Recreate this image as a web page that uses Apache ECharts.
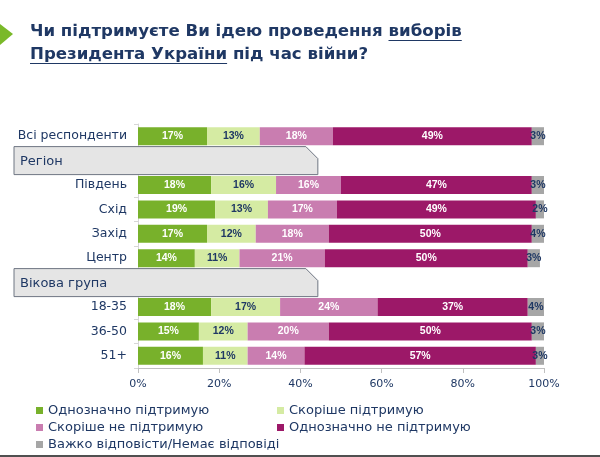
<!DOCTYPE html>
<html>
<head>
<meta charset="utf-8">
<script src="https://cdn.jsdelivr.net/npm/echarts@6/dist/echarts.min.js"></script>
<style>
html,body{margin:0;padding:0;background:#fff;}
#chart{width:600px;height:457px;}
</style>
</head>
<body>
<div id="chart"></div>
<script>
// ---- data ----
const categories = ['Всі респонденти','Регіон','Південь','Схід','Захід','Центр','Вікова група','18-35','36-50','51+'];
const headerRows = ['Регіон','Вікова група'];
const seriesNames = ['Однозначно підтримую','Скоріше підтримую','Скоріше не підтримую','Однозначно не підтримую','Важко відповісти/Немає відповіді'];
const definitelySupport    = [17, null, 18, 19, 17, 14, null, 18, 15, 16];
const ratherSupport        = [13, null, 16, 13, 12, 11, null, 17, 12, 11];
const ratherNotSupport     = [18, null, 16, 17, 18, 21, null, 24, 20, 14];
const definitelyNotSupport = [49, null, 47, 49, 50, 50, null, 37, 50, 57];
const hardToSay            = [3,  null, 3,  2,  4,  3,  null, 4,  3,  3];
const xTicks = [0, 20, 40, 60, 80, 100];

const NAVY = '#1f3864';
const FONT = '"DejaVu Sans", sans-serif';
const LABEL_FONT = '"Liberation Sans", Arial, sans-serif';
const colors = ['#78b12b', '#d5eba3', '#c97db0', '#9c1868', '#a6a6a6'];
const labelColors = ['#ffffff', NAVY, '#ffffff', '#ffffff', NAVY];
const allValues = [definitelySupport, ratherSupport, ratherNotSupport, definitelyNotSupport, hardToSay];

// title text and measurements (size fitted so that line 1 spans ~432px)
const line1Prefix = 'Чи підтримуєте Ви ідею проведення ';
const line1Under = 'виборів';
const line2Under = 'Президента України';
const line2Rest = ' під час війни?';
const cv = document.createElement('canvas').getContext('2d');
cv.font = 'bold 20px "DejaVu Sans", sans-serif';
const w20 = cv.measureText(line1Prefix + line1Under).width;
const titleSize = Math.min(19, 20 * 432 / w20);
const titleFont = 'bold ' + titleSize.toFixed(2) + 'px "DejaVu Sans", sans-serif';
cv.font = titleFont;
const wPrefix = cv.measureText(line1Prefix).width;
const wUnder1 = cv.measureText(line1Under).width;
const wUnder2 = cv.measureText(line2Under).width;
const TX = 30;

const chart = echarts.init(document.getElementById('chart'), null, {renderer: 'canvas'});

const barSeries = seriesNames.map((name, i) => ({
  name: name,
  type: 'bar',
  stack: 'total',
  barWidth: 18,
  itemStyle: {color: colors[i]},
  label: {
    show: true,
    position: 'inside',
    formatter: p => (p.value == null ? '' : p.value + '%'),
    color: labelColors[i],
    fontFamily: LABEL_FONT,
    fontWeight: 'bold',
    fontSize: 10.5
  },
  emphasis: {disabled: true},
  data: allValues[i]
}));

const headerSeries = {
  type: 'custom',
  name: 'headers',
  clip: false,
  silent: true,
  z: 1,
  encode: {x: 0, y: 1},
  data: headerRows.map(h => [0, h]),
  renderItem: function (params, api) {
    const c = api.coord([0, api.value(1)]);
    const xr = api.coord([44.3, api.value(1)])[0];
    const x0 = 14, y0 = c[1] - 14, y1 = c[1] + 14;
    const cut = 12;
    return {
      type: 'group',
      children: [
        {
          type: 'polygon',
          shape: {points: [[x0, y0], [xr - cut, y0], [xr, y0 + cut], [xr, y1], [x0, y1]]},
          style: {fill: '#e5e5e5', stroke: '#6f7683', lineWidth: 1}
        },
        {
          type: 'text',
          style: {
            text: headerRows[params.dataIndex],
            x: x0 + 6, y: c[1] + 1,
            verticalAlign: 'middle',
            font: '13px ' + FONT,
            fill: NAVY
          }
        }
      ]
    };
  }
};

const legendCommon = {
  orient: 'vertical',
  icon: 'rect',
  itemWidth: 7,
  itemHeight: 7,
  itemGap: 4,
  padding: 0,
  selectedMode: false,
  textStyle: {color: NAVY, fontSize: 13, fontFamily: FONT}
};

const option = {
  animation: false,
  backgroundColor: '#ffffff',
  grid: {left: 138, right: 56, top: 124, height: 244, containLabel: false},
  xAxis: {
    type: 'value',
    min: 0,
    max: 100,
    interval: 20,
    axisLine: {show: true, lineStyle: {color: '#c0c0c0'}},
    axisTick: {show: true, length: 5, lineStyle: {color: '#c0c0c0'}},
    splitLine: {show: false},
    axisLabel: {
      formatter: v => (xTicks.indexOf(v) >= 0 ? v + '%' : ''),
      color: NAVY, fontSize: 11, fontFamily: FONT, margin: 11
    }
  },
  yAxis: {
    type: 'category',
    inverse: true,
    data: categories,
    axisLine: {show: true, lineStyle: {color: '#d6d6d6'}},
    axisTick: {show: true, length: 4, lineStyle: {color: '#d6d6d6'}},
    axisLabel: {
      formatter: v => (headerRows.indexOf(v) >= 0 ? '' : v),
      color: NAVY, fontSize: 12.5, fontFamily: FONT, margin: 11
    }
  },
  legend: [
    Object.assign({}, legendCommon, {left: 36, top: 404, data: [seriesNames[0], seriesNames[2], seriesNames[4]]}),
    Object.assign({}, legendCommon, {left: 277, top: 404, data: [seriesNames[1], seriesNames[3]]})
  ],
  graphic: [
    {type: 'polygon', shape: {points: [[0, 24], [13, 34], [0, 45]]}, style: {fill: '#7ab929'}},
    {type: 'text', style: {text: line1Prefix + line1Under, x: TX, y: 32, verticalAlign: 'middle', font: titleFont, fill: NAVY}},
    {type: 'line', shape: {x1: TX + wPrefix, y1: 40.5, x2: TX + wPrefix + wUnder1, y2: 40.5}, style: {stroke: NAVY, lineWidth: 1.2}},
    {type: 'text', style: {text: line2Under + line2Rest, x: TX, y: 55, verticalAlign: 'middle', font: titleFont, fill: NAVY}},
    {type: 'line', shape: {x1: TX, y1: 63.5, x2: TX + wUnder2, y2: 63.5}, style: {stroke: NAVY, lineWidth: 1.2}},
    {type: 'rect', shape: {x: 0, y: 455, width: 600, height: 2}, style: {fill: '#505050'}}
  ],
  series: barSeries.concat([headerSeries])
};

chart.setOption(option);
</script>
</body>
</html>
